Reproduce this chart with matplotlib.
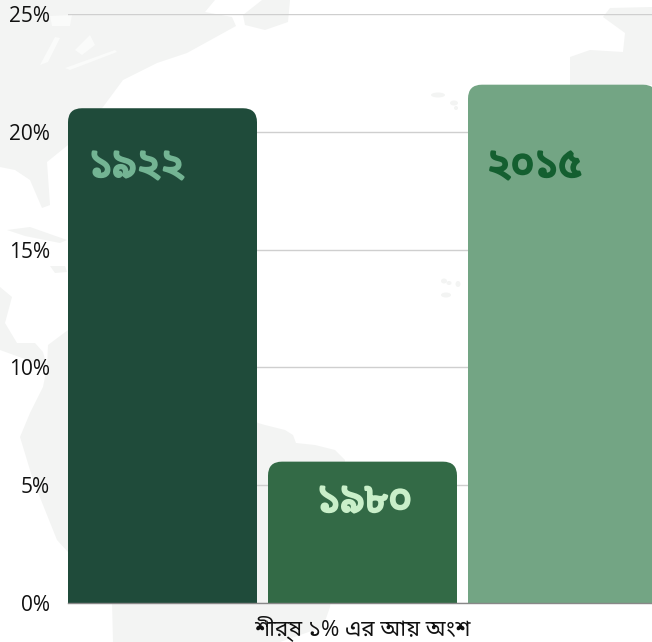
import matplotlib
matplotlib.use("Agg")
import matplotlib.pyplot as plt
import matplotlib.patheffects as pe
from matplotlib.patches import PathPatch, Polygon, Ellipse
from matplotlib.path import Path

years = ["১৯২২", "১৯৮০", "২০১৫"]
values = [21, 6, 22]
bar_colors = ["#1f4b3a", "#336a46", "#73a584"]
label_colors = ["#73b493", "#c9efc9", "#145f30"]
yticks = [0, 5, 10, 15, 20, 25]
xlabel = "শীর্ষ ১% এর আ\u09DF অংশ"

plt.rcParams["font.family"] = ["Open Sans", "Noto Sans Bengali", "DejaVu Sans"]
LAND = "#f3f4f3"

fig = plt.figure(figsize=(6.52, 6.42), dpi=100)

# decorative world-map backdrop, in pixel coordinates
bg = fig.add_axes([0, 0, 1, 1], zorder=0)
bg.set_xlim(0, 652)
bg.set_ylim(642, 0)
bg.axis("off")
land = [
    [(0, 0), (215, 0), (205, 12), (232, 17), (236, 26), (187, 53), (157, 63), (123, 80), (103, 107), (68, 145),
     (47, 162), (50, 205), (42, 208), (30, 180), (15, 170), (0, 167)],
    [(243, 15), (262, 0), (290, 0), (288, 22), (265, 30), (245, 25)],
    [(7, 230), (30, 227), (67, 240), (60, 243), (25, 236)],
    [(50, 266), (65, 266), (67, 272), (55, 273)],
    [(0, 287), (12, 297), (5, 323), (17, 343), (35, 343), (43, 352), (47, 367), (0, 350)],
    [(68, 330), (48, 345), (47, 367), (43, 387), (30, 413), (20, 437), (33, 480), (57, 540), (68, 552),
     (112, 600), (113, 642), (280, 642), (323, 627), (330, 607), (345, 460), (335, 450), (315, 445), (296, 443),
     (293, 435), (285, 430), (265, 425), (258, 423), (150, 330)],
    [(570, 57), (590, 50), (623, 52), (625, 33), (603, 17), (610, 8), (652, 7), (652, 85), (570, 85)],
]
for pts in land:
    bg.add_patch(Polygon(pts, closed=True, facecolor=LAND, edgecolor="none"))
lakes = [
    [(40, 65), (55, 37), (60, 38), (48, 62)],
    [(75, 50), (90, 35), (95, 45), (82, 55)],
    [(65, 68), (115, 50), (117, 52), (70, 70)],
    [(50, 16), (72, 15), (70, 26), (52, 26)],
]
for pts in lakes:
    bg.add_patch(Polygon(pts, closed=True, facecolor="#fafbfa", edgecolor="none"))
for cx, cy, w, h in [(438, 95, 14, 5), (454, 103, 8, 5), (456, 108, 4, 4), (444, 281, 6, 5), (449, 283, 5, 4),
                     (458, 284, 5, 6), (446, 295, 10, 5)]:
    bg.add_patch(Ellipse((cx, cy), w, h, facecolor=LAND, edgecolor="none"))

ax = fig.add_axes([68/652, 39/642, 584/652, 589/642], zorder=1)
ax.patch.set_alpha(0)
ax.set_xlim(-0.4725, 2.4475)
ax.set_ylim(0, 25)
for s in ax.spines.values():
    s.set_visible(False)
ax.spines["bottom"].set_visible(True)
ax.spines["bottom"].set_color("#888888")
ax.spines["bottom"].set_linewidth(1)
ax.set_xticks([])
ax.set_yticks(yticks)
ax.set_yticklabels([f"{v}%" for v in yticks], fontsize=15, color="#111111")
ax.tick_params(axis="y", length=0, pad=13)
ax.grid(axis="y", color="#cfcfcf", linewidth=1)
ax.set_axisbelow(True)

# rounded-top bars, corner radius given in pixels
w = 0.945
rx = 14 / 200
ry = 14 / (589 / 25)
for i, (v, c) in enumerate(zip(values, bar_colors)):
    l, r = i - w / 2, i + w / 2
    verts = [(l, 0), (l, v - ry), (l, v), (l + rx, v), (r - rx, v), (r, v), (r, v - ry), (r, 0), (l, 0)]
    codes = [Path.MOVETO, Path.LINETO, Path.CURVE3, Path.CURVE3, Path.LINETO, Path.CURVE3, Path.CURVE3, Path.LINETO, Path.CLOSEPOLY]
    ax.add_patch(PathPatch(Path(verts, codes), facecolor=c, edgecolor="none", zorder=2))

label_y = [18.52, 4.3, 18.52]
label_x = [-0.13, 1.01, 1.86]
for x, y, t, c in zip(label_x, label_y, years, label_colors):
    ax.text(x, y, t, color=c, fontsize=29, ha="center", va="center", zorder=3,
            path_effects=[pe.withStroke(linewidth=1.8, foreground=c)])

fig.text(362 / 652, 1 - 628 / 642, xlabel, ha="center", va="center", fontsize=16, color="#111111")
fig.savefig("out.png", dpi=100)
